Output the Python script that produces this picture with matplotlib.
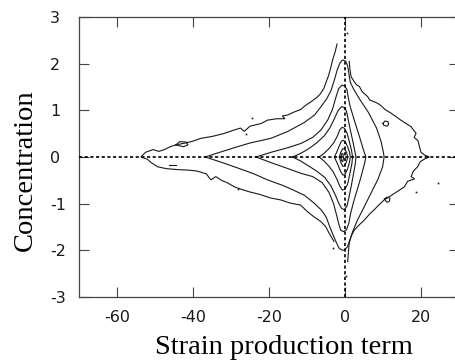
import matplotlib
matplotlib.use("Agg")
import matplotlib.pyplot as plt

# ---------------- data ----------------
x_ticks = [-60, -40, -20, 0, 20]
y_ticks = [-3, -2, -1, 0, 1, 2, 3]

# outermost level: left part (open at top and bottom)
outer_left_x = [-2.1, -2.6, -3.2, -3.7, -4.3, -5.0, -5.5, -6.5, -7.5, -9.0, -10.5, -11.6, -13.5, -15.1,
                -16.5, -15.8, -18.0, -20.4, -22.0, -25.0, -26.5, -27.5, -29.1, -32.0, -35.0, -37.9,
                -40.0, -42.0, -44.5, -46.0, -47.5, -49.0, -50.5, -52.5, -53.7,
                -52.0, -51.0, -49.3, -47.0, -44.0, -41.4, -39.0, -36.5, -35.3, -34.0, -32.5, -31.0,
                -29.1, -27.0, -25.0, -22.5, -19.5, -16.9, -14.3, -11.7, -9.9, -8.2, -6.4, -5.1,
                -4.2, -3.4, -2.9]
outer_left_y = [2.42, 2.25, 2.10, 1.93, 1.75, 1.60, 1.48, 1.35, 1.27, 1.18, 1.10, 1.02, 0.96, 0.90,
                0.88, 0.82, 0.82, 0.79, 0.72, 0.66, 0.55, 0.62, 0.58, 0.50, 0.44, 0.40,
                0.34, 0.30, 0.26, 0.22, 0.16, 0.12, 0.16, 0.10, 0.0,
                -0.05, -0.12, -0.21, -0.25, -0.27, -0.28, -0.30, -0.36, -0.49, -0.42, -0.50, -0.55,
                -0.64, -0.70, -0.75, -0.80, -0.88, -0.92, -0.99, -1.03, -1.17, -1.28, -1.38, -1.49,
                -1.63, -1.74, -1.81]

# outermost level: right part
outer_right_x = [1.1, 1.3, 1.6, 2.4, 3.0, 3.8, 4.5, 5.2, 6.0, 6.5, 7.2, 8.6, 9.5, 10.5, 12.1, 13.5,
                 14.7, 16.0, 17.4, 18.0, 18.7, 18.2, 19.2, 19.6, 20.0, 21.0, 22.2,
                 21.0, 19.8, 19.1, 18.0, 17.4, 18.3, 16.5, 15.6, 14.5, 13.0, 11.5, 10.3, 9.0, 7.7,
                 6.5, 5.1, 3.8, 2.5, 1.6, 1.1, 0.9, 0.7]
outer_right_y = [2.05, 1.88, 1.72, 1.62, 1.55, 1.51, 1.40, 1.35, 1.29, 1.22, 1.20, 1.15, 1.10, 1.02,
                 0.94, 0.86, 0.79, 0.72, 0.65, 0.58, 0.51, 0.42, 0.35, 0.22, 0.10, 0.04, 0.0,
                 -0.04, -0.10, -0.21, -0.30, -0.42, -0.47, -0.52, -0.64, -0.70, -0.78, -0.86, -0.92,
                 -1.02, -1.13, -1.22, -1.35, -1.45, -1.56, -1.70, -1.85, -2.05, -2.24]

# closed inner levels, from outside to inside
level_a_x = [-36.8, -33.0, -29.1, -25.0, -19.5, -15.0, -10.7, -8.0, -6.3, -4.8, -3.7, -2.8, -2.0, -1.3,
             -0.6, 0.2, 0.7, 1.0, 1.4, 2.3, 4.0, 6.2, 8.3, 9.5, 10.1, 10.3,
             10.1, 9.9, 8.6, 6.8, 5.1, 3.3, 2.0, 1.2, 0.6, -0.3, -0.9, -1.6, -2.4, -3.7, -5.0, -6.3,
             -8.1, -10.7, -13.3, -16.0, -20.4, -24.0, -29.1, -33.0, -36.8]
level_a_y = [0.0, 0.10, 0.20, 0.30, 0.40, 0.55, 0.74, 0.90, 1.08, 1.25, 1.42, 1.65, 1.88, 2.02,
             2.08, 2.05, 1.95, 1.80, 1.60, 1.45, 1.22, 0.95, 0.62, 0.33, 0.10, 0.0,
             -0.10, -0.21, -0.49, -0.78, -1.06, -1.35, -1.60, -1.80, -1.93, -2.00, -1.99, -1.95,
             -1.81, -1.56, -1.28, -1.13, -0.99, -0.82, -0.72, -0.62, -0.49, -0.36, -0.21, -0.10, 0.0]

level_b_x = [-23.4, -19.5, -15.0, -11.6, -8.5, -6.3, -4.5, -3.3, -2.5, -1.7, -0.8, -0.1, 0.5, 0.8,
             1.3, 2.4, 3.8, 4.9, 5.5, 5.1, 4.3, 3.3, 2.3, 1.5, 1.0, 0.4, -0.4, -1.1, -1.6, -2.2,
             -3.0, -4.2, -6.0, -8.5, -11.6, -16.0, -19.5, -23.4]
level_b_y = [0.0, 0.10, 0.20, 0.29, 0.42, 0.58, 0.80, 1.02, 1.25, 1.46, 1.54, 1.52, 1.45, 1.30,
             1.10, 0.80, 0.44, 0.14, 0.0, -0.15, -0.40, -0.68, -0.95, -1.20, -1.42, -1.56, -1.60,
             -1.57, -1.45, -1.25, -1.00, -0.76, -0.55, -0.42, -0.35, -0.22, -0.12, 0.0]

level_c_x = [-13.8, -11.6, -9.5, -7.5, -5.5, -4.0, -2.8, -1.8, -0.9, -0.2, 0.4, 0.8, 1.4, 2.1, 2.6,
             2.9, 2.7, 2.2, 1.6, 1.0, 0.5, -0.2, -0.9, -1.6, -2.5, -3.7, -5.3, -7.5, -9.8, -11.8, -13.8]
level_c_y = [0.0, 0.08, 0.18, 0.30, 0.45, 0.62, 0.82, 1.00, 1.08, 1.06, 0.98, 0.82, 0.58, 0.32, 0.12,
             0.0, -0.15, -0.38, -0.64, -0.88, -1.06, -1.13, -1.10, -1.00, -0.82, -0.62, -0.44, -0.30,
             -0.18, -0.08, 0.0]

level_d_x = [-6.8, -5.5, -4.2, -3.0, -2.0, -1.4, -0.7, -0.1, 0.5, 1.1, 1.7, 2.0, 1.8, 1.3, 0.7, 0.0,
             -0.7, -1.4, -2.1, -3.1, -4.3, -5.6, -6.8]
level_d_y = [0.0, 0.08, 0.18, 0.30, 0.45, 0.58, 0.64, 0.61, 0.52, 0.34, 0.15, 0.0, -0.15, -0.35,
             -0.58, -0.69, -0.71, -0.62, -0.48, -0.32, -0.19, -0.08, 0.0]

level_e_x = [-2.8, -2.2, -1.6, -1.0, -0.5, 0.1, 0.7, 1.2, 1.4, 1.2, 0.7, 0.1, -0.5, -1.1, -1.7, -2.3, -2.8]
level_e_y = [0.0, 0.10, 0.22, 0.33, 0.36, 0.32, 0.22, 0.10, 0.0, -0.10, -0.25, -0.36, -0.39, -0.32,
             -0.20, -0.09, 0.0]

level_f_x = [-1.5, -1.1, -0.6, -0.1, 0.4, 0.7, 0.4, -0.1, -0.6, -1.1, -1.5]
level_f_y = [0.0, 0.10, 0.18, 0.17, 0.10, 0.0, -0.10, -0.19, -0.20, -0.11, 0.0]

level_g_x = [-1.1, -0.8, -0.5, -0.4, -0.6, -0.9, -1.1]
level_g_y = [0.0, 0.08, 0.06, -0.03, -0.10, -0.08, 0.0]

# small isolated islands
island1_x = [-44.5, -43.5, -41.8, -41.3, -42.5, -44.5]
island1_y = [0.26, 0.33, 0.32, 0.26, 0.22, 0.26]
island2_x = [-46.2, -44.6]
island2_y = [-0.17, -0.17]
island3_x = [10.0, 10.5, 11.3, 11.5, 11.0, 10.2, 10.0]
island3_y = [0.72, 0.77, 0.76, 0.70, 0.66, 0.68, 0.72]
island4_x = [10.4, 11.0, 11.8, 11.7, 11.0, 10.4]
island4_y = [-0.90, -0.86, -0.88, -0.95, -0.97, -0.90]
stray_x = [-28.2, -24.6, -26.0, 18.7, 24.5, -3.2, 0.5, 0.3]
stray_y = [-0.69, 0.84, 0.50, -0.75, -0.55, -1.95, 2.65, -2.55]

# ---------------- figure ----------------
W, H = 456, 360
fig = plt.figure(figsize=(W / 100, H / 100), dpi=100)
ax = fig.add_axes([79 / W, (H - 297) / H, 380 / W, 280 / H])
ax.set_xlim(-70, 30)
ax.set_ylim(-3, 3)

lc = "#1a1a1a"
lw = 0.8
for xs, ys in [(outer_left_x, outer_left_y), (outer_right_x, outer_right_y),
               (level_a_x, level_a_y), (level_b_x, level_b_y), (level_c_x, level_c_y),
               (level_d_x, level_d_y), (level_e_x, level_e_y), (level_f_x, level_f_y),
               (level_g_x, level_g_y),
               (island1_x, island1_y), (island2_x, island2_y), (island3_x, island3_y),
               (island4_x, island4_y)]:
    ax.plot(xs, ys, color=lc, lw=lw, solid_joinstyle="miter")
ax.plot(stray_x, stray_y, ls="none", marker="s", ms=1.2, color=lc, mew=0)

ax.axhline(0, color="black", lw=1.2, ls=(0, (1.9, 1.5)), zorder=3)
ax.axvline(0, color="black", lw=1.2, ls=(0, (1.9, 1.5)), zorder=3)

ax.set_xticks(x_ticks)
ax.set_yticks(y_ticks)
ax.set_xticklabels([str(v) for v in x_ticks])
ax.set_yticklabels([str(v) for v in y_ticks])
ax.tick_params(direction="in", length=7.5, width=0.8, color="#444444",
               top=True, right=True, labelsize=11.5, labelcolor="#1a1a1a")
ax.tick_params(axis="x", pad=9)
ax.tick_params(axis="y", pad=21)
for lab in ax.get_yticklabels():
    lab.set_horizontalalignment("left")
for s in ax.spines.values():
    s.set_color("#444444")
    s.set_linewidth(0.9)

serif = ["Liberation Serif", "DejaVu Serif"]
ax.set_xlabel("Strain production term", fontsize=20.5, family=serif)
ax.set_ylabel("Concentration", fontsize=20.5, family=serif)
ax.xaxis.set_label_coords((284 - 79) / 380, -0.137)
ax.yaxis.set_label_coords(-0.107, (297 - 170) / 280)

fig.savefig("out.png", dpi=100)
